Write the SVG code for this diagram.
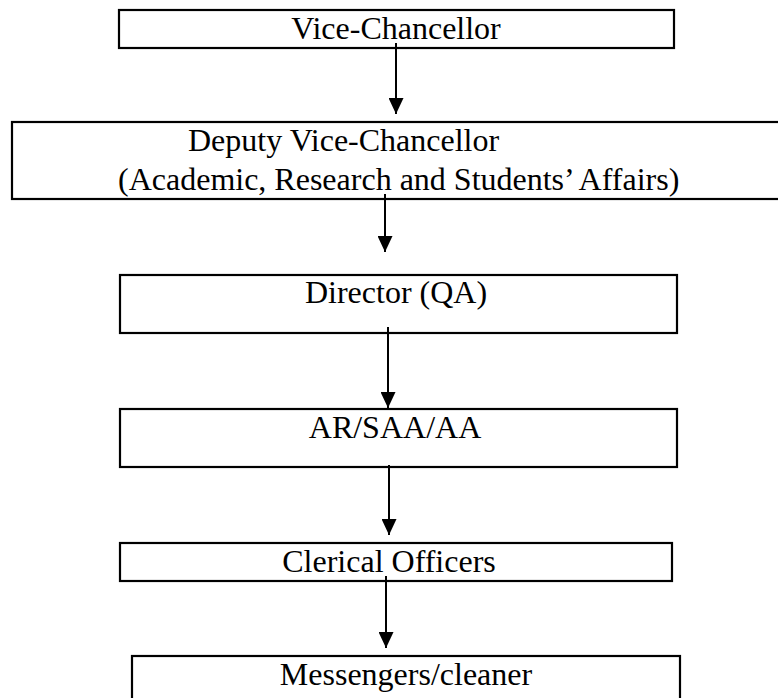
<svg xmlns="http://www.w3.org/2000/svg" width="778" height="698" viewBox="0 0 778 698">
<defs>
<marker id="ah" markerUnits="userSpaceOnUse" markerWidth="16" markerHeight="15" refX="16" refY="7.5" orient="auto">
<path d="M0,0 L16,7.5 L0,15 z" fill="#000"/>
</marker>
<style>
.box{fill:#fff;stroke:#000;stroke-width:2.2}
.t{font-family:'Liberation Serif','Times New Roman',serif;font-size:32px;fill:#000}
.c{text-anchor:middle}
.e{stroke:#000;stroke-width:2;fill:none;marker-end:url(#ah)}
</style>
</defs>
<rect width="778" height="698" fill="#fff"/>
<g id="n1">
<rect class="box" x="119" y="10" width="555" height="38"/>
<text class="t c" x="396" y="39">Vice-Chancellor</text>
</g>
<g id="n2">
<rect class="box" x="12" y="122" width="800" height="77"/>
<text class="t" x="188" y="151">Deputy Vice-Chancellor</text>
<text class="t" x="118" y="190">(Academic, Research and Students’ Affairs)</text>
</g>
<g id="n3">
<rect class="box" x="120" y="275" width="557" height="58"/>
<text class="t c" x="396" y="303">Director (QA)</text>
</g>
<g id="n4">
<rect class="box" x="120" y="409" width="557" height="58"/>
<text class="t c" x="395" y="438">AR/SAA/AA</text>
</g>
<g id="n5">
<rect class="box" x="120" y="543" width="552" height="38"/>
<text class="t c" x="389" y="572">Clerical Officers</text>
</g>
<g id="n6">
<rect class="box" x="132" y="656" width="548" height="60"/>
<text class="t c" x="406" y="685">Messengers/cleaner</text>
</g>
<g id="edges">
<line class="e" x1="396" y1="43" x2="396" y2="114"/>
<line class="e" x1="385" y1="194" x2="385" y2="252"/>
<line class="e" x1="388" y1="327" x2="388" y2="408"/>
<line class="e" x1="389" y1="465" x2="389" y2="535"/>
<line class="e" x1="386" y1="576" x2="386" y2="648"/>
</g>
</svg>
